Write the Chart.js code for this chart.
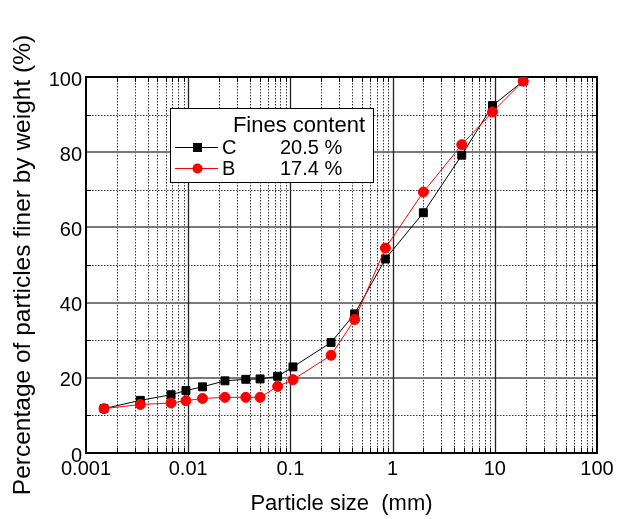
<!DOCTYPE html>
<html>
<head>
<meta charset="utf-8">
<script src="https://cdn.jsdelivr.net/npm/chart.js@4.4.1/dist/chart.umd.min.js"></script>
<style>
html,body{margin:0;padding:0;background:#fff;}
#wrap{width:633px;height:519px;position:relative;}
</style>
</head>
<body>
<div id="wrap"><canvas id="c" width="633" height="519"></canvas></div>
<script>
const particleSizes = [0.0015, 0.0034, 0.0068, 0.0095, 0.0138, 0.0229, 0.0366, 0.0505, 0.075, 0.106, 0.25, 0.425, 0.85, 2, 4.75, 9.5, 19];
const finerC = [11.8, 14.0, 15.5, 16.6, 17.6, 19.2, 19.6, 19.7, 20.4, 22.9, 29.4, 37.0, 51.6, 63.9, 79.2, 92.4, 98.9];
const finerB = [11.8, 12.9, 13.3, 13.9, 14.5, 14.8, 14.8, 14.8, 17.7, 19.5, 26.0, 35.5, 54.5, 69.4, 82.0, 90.7, 98.9];
const seriesNames = ['C', 'B'];
const finesContent = ['20.5 %', '17.4 %'];
const legendTitle = 'Fines content';
const xTickLabels = ['0.001', '0.01', '0.1', '1', '10', '100'];
const yTickValues = [0, 20, 40, 60, 80, 100];

const FONT = '"Liberation Sans", Arial, sans-serif';

function toPts(xs, ys){ return xs.map((x,i)=>({x:x, y:ys[i]})); }

const gridPlugin = {
  id: 'logGrid',
  beforeDatasetsDraw(chart){
    const ctx = chart.ctx, a = chart.chartArea;
    const xs = chart.scales.x, ys = chart.scales.y;
    ctx.save();
    for (let e = -3; e <= 1; e++){
      for (let m = 2; m <= 9; m++){
        const px = Math.round(xs.getPixelForValue(m*Math.pow(10,e))) + 0.5;
        ctx.strokeStyle = '#333'; ctx.lineWidth = 1; ctx.setLineDash([1.5,1.5]);
        ctx.beginPath(); ctx.moveTo(px, a.top); ctx.lineTo(px, a.bottom); ctx.stroke();
        ctx.setLineDash([]); ctx.strokeStyle = '#000';
        ctx.beginPath(); ctx.moveTo(px, a.bottom); ctx.lineTo(px, a.bottom-5);
        ctx.moveTo(px, a.top); ctx.lineTo(px, a.top+5); ctx.stroke();
      }
    }
    for (let v = 10; v < 100; v += 20){
      const py = Math.round(ys.getPixelForValue(v)) + 0.5;
      ctx.strokeStyle = '#333'; ctx.lineWidth = 1; ctx.setLineDash([1.5,1.5]);
      ctx.beginPath(); ctx.moveTo(a.left, py); ctx.lineTo(a.right, py); ctx.stroke();
      ctx.setLineDash([]); ctx.strokeStyle='#000';
      ctx.beginPath(); ctx.moveTo(a.left, py); ctx.lineTo(a.left+5, py);
      ctx.moveTo(a.right, py); ctx.lineTo(a.right-5, py); ctx.stroke();
    }
    ctx.setLineDash([]);
    for (let v = 20; v < 100; v += 20){
      const py = Math.round(ys.getPixelForValue(v));
      ctx.strokeStyle = '#7a7a7a'; ctx.lineWidth = 2;
      ctx.beginPath(); ctx.moveTo(a.left, py); ctx.lineTo(a.right, py); ctx.stroke();
    }
    for (let e = -2; e <= 1; e++){
      const px = Math.round(xs.getPixelForValue(Math.pow(10,e))) + 0.5;
      ctx.strokeStyle = '#222'; ctx.lineWidth = 1.3;
      ctx.beginPath(); ctx.moveTo(px, a.top); ctx.lineTo(px, a.bottom); ctx.stroke();
    }
    ctx.strokeStyle = '#000'; ctx.lineWidth = 2;
    ctx.strokeRect(a.left, a.top, a.right-a.left, a.bottom-a.top);
    ctx.restore();
  }
};

const legendPlugin = {
  id: 'customLegend',
  afterDraw(chart){
    const ctx = chart.ctx;
    const ds = chart.data.datasets;
    ctx.save();
    const bx = 170, by = 108, bw = 203, bh = 74;
    ctx.fillStyle = '#fff'; ctx.fillRect(bx, by, bw, bh);
    ctx.strokeStyle = '#000'; ctx.lineWidth = 1;
    ctx.strokeRect(bx+0.5, by+0.5, bw, bh);
    ctx.fillStyle = '#000';
    ctx.font = '22px "Liberation Sans", Arial, sans-serif';
    ctx.textAlign = 'right'; ctx.textBaseline = 'alphabetic';
    ctx.fillText(legendTitle, 365, 132);
    const rows = [147, 168];
    ds.forEach((d, i) => {
      const y = rows[i];
      ctx.strokeStyle = d.borderColor; ctx.lineWidth = 1;
      ctx.beginPath(); ctx.moveTo(175, y+0.5); ctx.lineTo(218, y+0.5); ctx.stroke();
      ctx.fillStyle = d.pointBackgroundColor;
      if (d.pointStyle === 'rect'){ ctx.fillRect(193, y-4, 9, 9); }
      else { ctx.beginPath(); ctx.arc(197.5, y+0.5, 5, 0, Math.PI*2); ctx.fill(); }
      ctx.fillStyle = '#000';
      ctx.font = '20px "Liberation Sans", Arial, sans-serif';
      ctx.textAlign = 'left'; ctx.textBaseline = 'middle';
      ctx.fillText(seriesNames[i], 222, y+1);
      ctx.fillText(finesContent[i], 280, y+1);
    });
    ctx.restore();
  }
};

new Chart(document.getElementById('c'), {
  type: 'line',
  data: {
    datasets: [
      { label: seriesNames[0], data: toPts(particleSizes, finerC), borderColor: '#000', backgroundColor: '#000',
        pointBackgroundColor: '#000', pointBorderColor: '#000', pointStyle: 'rect', pointRadius: 5.6, borderWidth: 1, order: 2 },
      { label: seriesNames[1], data: toPts(particleSizes, finerB), borderColor: '#ff0000', backgroundColor: '#ff0000',
        pointBackgroundColor: '#ff0000', pointBorderColor: '#ff0000', pointStyle: 'circle', pointRadius: 5, borderWidth: 1, order: 1 }
    ]
  },
  options: {
    responsive: false, animation: false, devicePixelRatio: 1,
    layout: { padding: { top: 77, right: 36, left: 0, bottom: 0 } },
    plugins: { legend: { display: false }, tooltip: { enabled: false } },
    scales: {
      x: {
        type: 'logarithmic', min: 0.001, max: 100,
        grid: { display: false, drawTicks: false }, border: { display: false },
        afterFit(s){ s.height = 66; },
        afterBuildTicks(s){ s.ticks = xTickLabels.map(t => ({ value: parseFloat(t) })); },
        ticks: { autoSkip: false, maxRotation: 0, padding: 4, color: '#000',
          font: { family: FONT, size: 20 },
          callback(v){ const i = xTickLabels.findIndex(t => Math.abs(parseFloat(t)-v) < 1e-9); return i >= 0 ? xTickLabels[i] : ''; } },
        title: { display: true, text: 'Particle size  (mm)', color: '#000', font: { family: FONT, size: 22 }, padding: { top: 0, bottom: 2 } }
      },
      y: {
        min: 0, max: 100,
        grid: { display: false, drawTicks: false }, border: { display: false },
        afterFit(s){ s.width = 86; },
        afterBuildTicks(s){ s.ticks = yTickValues.map(v => ({ value: v })); },
        ticks: { autoSkip: false, padding: 4, labelOffset: 3, color: '#000', font: { family: FONT, size: 20 } },
        title: { display: true, text: 'Percentage of particles finer by weight (%)', color: '#000', font: { family: FONT, size: 24.5 }, padding: { top: 9, bottom: 0 } }
      }
    }
  },
  plugins: [gridPlugin, legendPlugin]
});
</script>
</body>
</html>
